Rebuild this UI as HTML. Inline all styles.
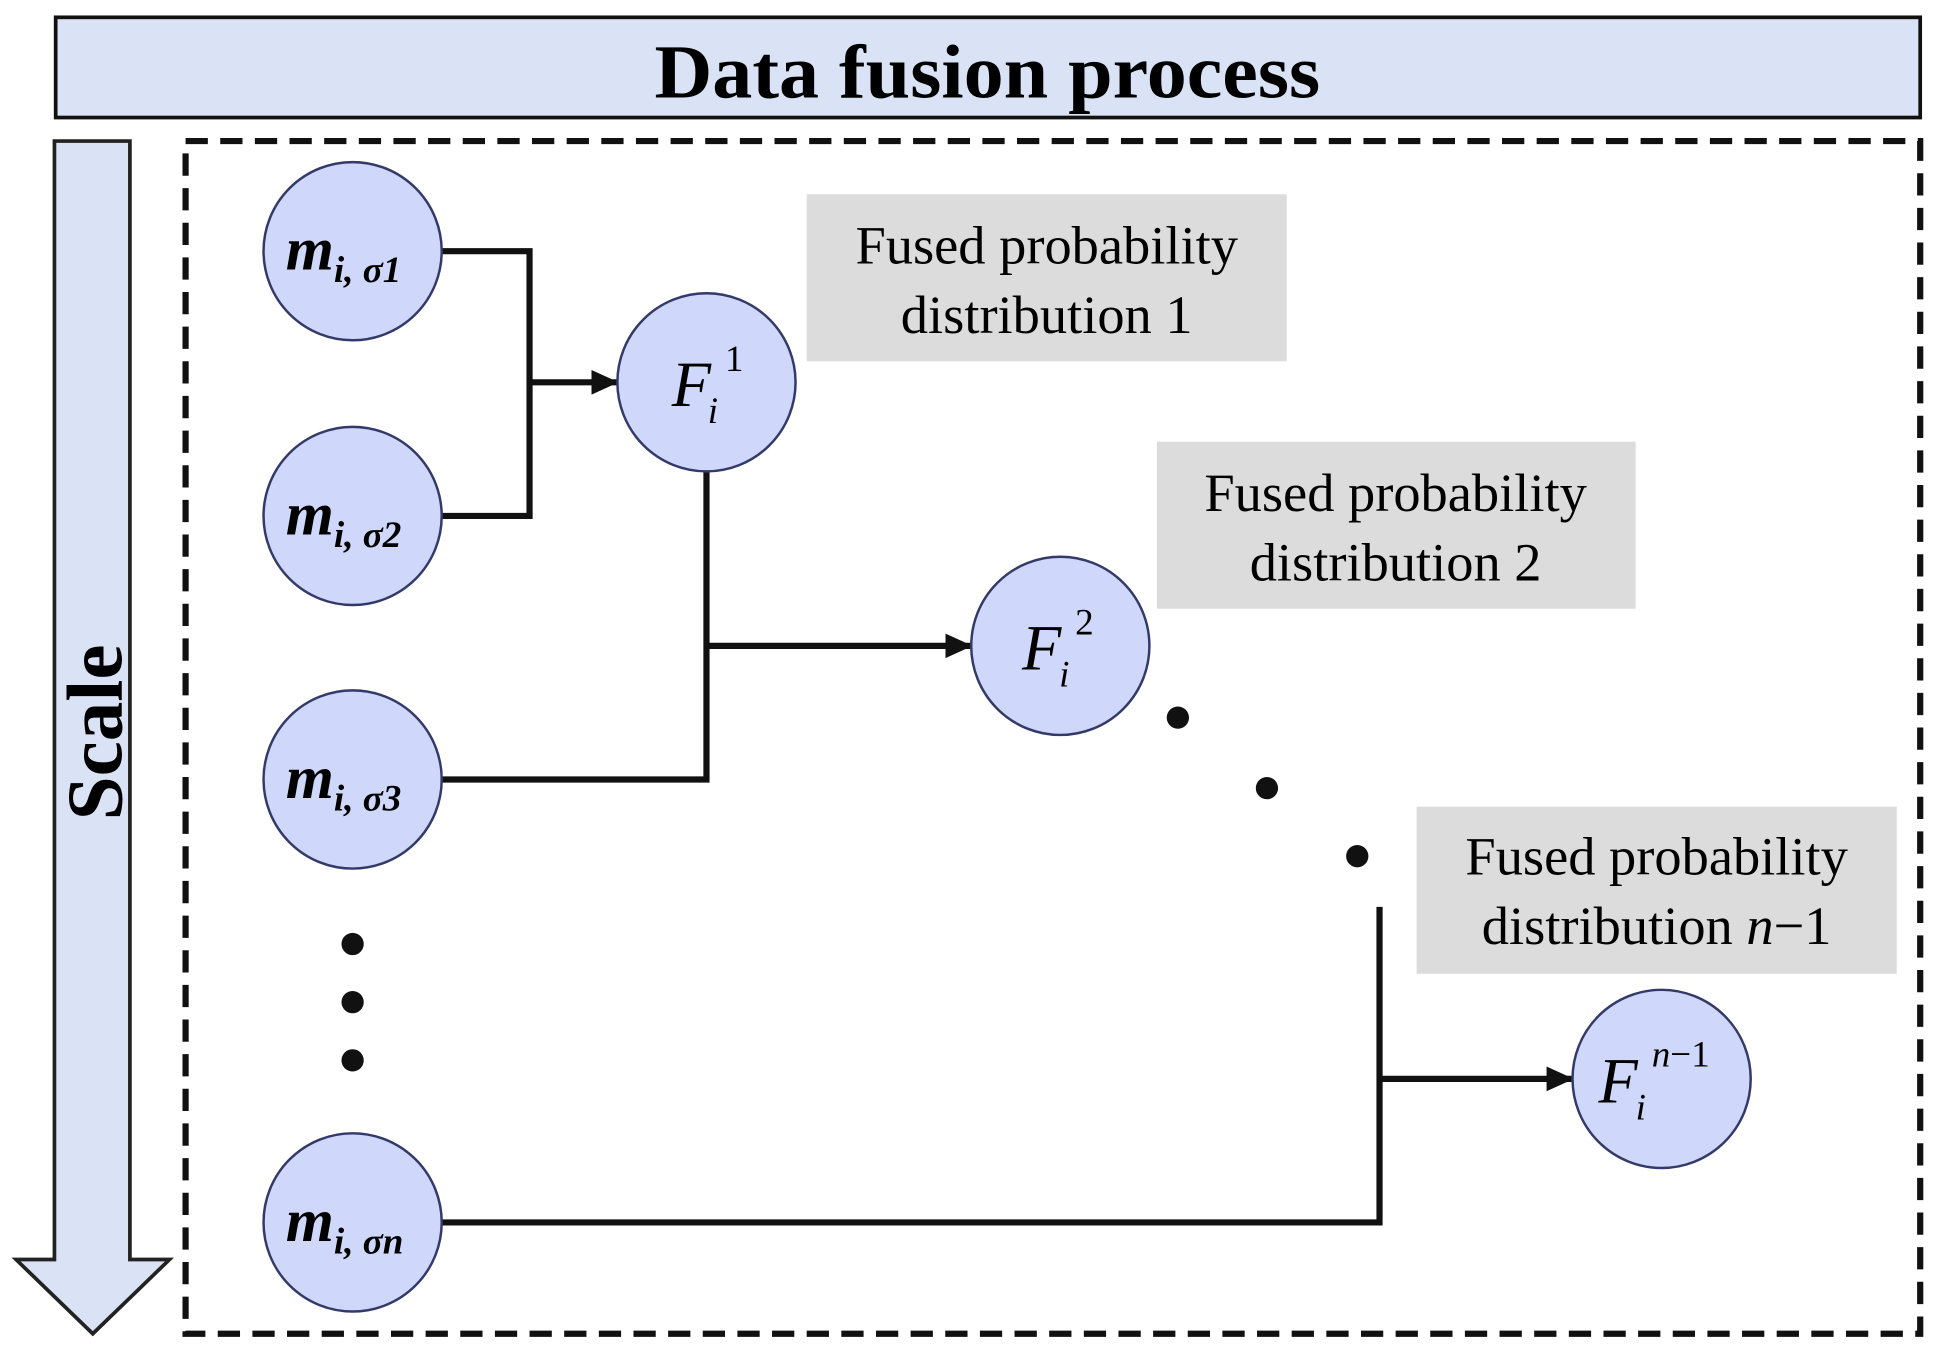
<!DOCTYPE html>
<html><head><style>html,body{margin:0;padding:0;background:#fff;}svg{display:block}</style></head>
<body>
<svg width="1940" height="1359" viewBox="0 0 1568 1098.4" preserveAspectRatio="none" xmlns="http://www.w3.org/2000/svg" font-family="Liberation Serif, serif">
<defs><marker id="a" markerWidth="22" markerHeight="20" refX="21" refY="10" orient="auto" markerUnits="userSpaceOnUse" viewBox="0 0 22 20"><path d="M0,0 L22,10 L0,20z" fill="#111"/></marker></defs>
<rect x="45" y="14" width="1507" height="81" fill="#dae3f5" stroke="#111" stroke-width="3"/>
<text x="798" y="79" text-anchor="middle" font-size="62" font-weight="bold" textLength="538" lengthAdjust="spacingAndGlyphs">Data fusion process</text>
<path d="M44,114 H105 V1018 H137 L75,1078 L13,1018 H44 Z" fill="#dae3f5" stroke="#222" stroke-width="3"/>
<text transform="translate(98,592) rotate(-90)" text-anchor="middle" font-size="64" font-weight="bold">Scale</text>
<rect x="150" y="114" width="1402" height="964" fill="none" stroke="#111" stroke-width="5" stroke-dasharray="18 10"/>
<g fill="#dcdcdc"><rect x="652" y="157" width="388" height="135"/><rect x="935" y="357" width="387" height="135"/><rect x="1145" y="652" width="388" height="135"/></g>
<g font-size="44" text-anchor="middle">
<text x="846" y="213">Fused probability</text><text x="846" y="269">distribution 1</text>
<text x="1128" y="413">Fused probability</text><text x="1128" y="469">distribution 2</text>
<text x="1339" y="707">Fused probability</text><text x="1339" y="763">distribution <tspan font-style="italic">n</tspan>−1</text>
</g>
<g fill="none" stroke="#111" stroke-width="5">
<path d="M357,203 H428 V417 H357"/>
<path d="M428,309 H499" marker-end="url(#a)"/>
<path d="M571,381 V630 H357"/>
<path d="M571,522 H785" marker-end="url(#a)"/>
<path d="M357,988 H1115 V733"/>
<path d="M1115,872 H1271" marker-end="url(#a)"/>
</g>
<g fill="#cfd8fa" stroke="#333a6a" stroke-width="2">
<circle cx="285" cy="203" r="72"/><circle cx="285" cy="417" r="72"/><circle cx="285" cy="630" r="72"/><circle cx="285" cy="988" r="72"/>
<circle cx="571" cy="309" r="72"/><circle cx="857" cy="522" r="72"/><circle cx="1343" cy="872" r="72"/>
</g>
<g fill="#111"><circle cx="952" cy="580" r="9"/><circle cx="1024" cy="637" r="9"/><circle cx="1097" cy="692" r="9"/>
<circle cx="285" cy="763" r="9"/><circle cx="285" cy="810" r="9"/><circle cx="285" cy="857" r="9"/></g>
<g font-style="italic" font-weight="bold">
<text x="231" y="218" font-size="50">m<tspan font-size="30" dy="10">i, σ1</tspan></text>
<text x="231" y="432" font-size="50">m<tspan font-size="30" dy="10">i, σ2</tspan></text>
<text x="231" y="645" font-size="50">m<tspan font-size="30" dy="10">i, σ3</tspan></text>
<text x="231" y="1003" font-size="50">m<tspan font-size="30" dy="10">i, σn</tspan></text>
</g>
<g font-size="52" font-style="italic">
<text x="543" y="328">F</text><text x="572" y="342" font-size="30">i</text><text x="586" y="300" font-size="30" font-style="normal">1</text>
<text x="826" y="541">F</text><text x="856" y="555" font-size="30">i</text><text x="869" y="513" font-size="30" font-style="normal">2</text>
<text x="1292" y="891">F</text><text x="1322" y="905" font-size="30">i</text><text x="1335" y="862" font-size="30">n<tspan font-style="normal">−1</tspan></text>
</g>
</svg>
</body></html>
